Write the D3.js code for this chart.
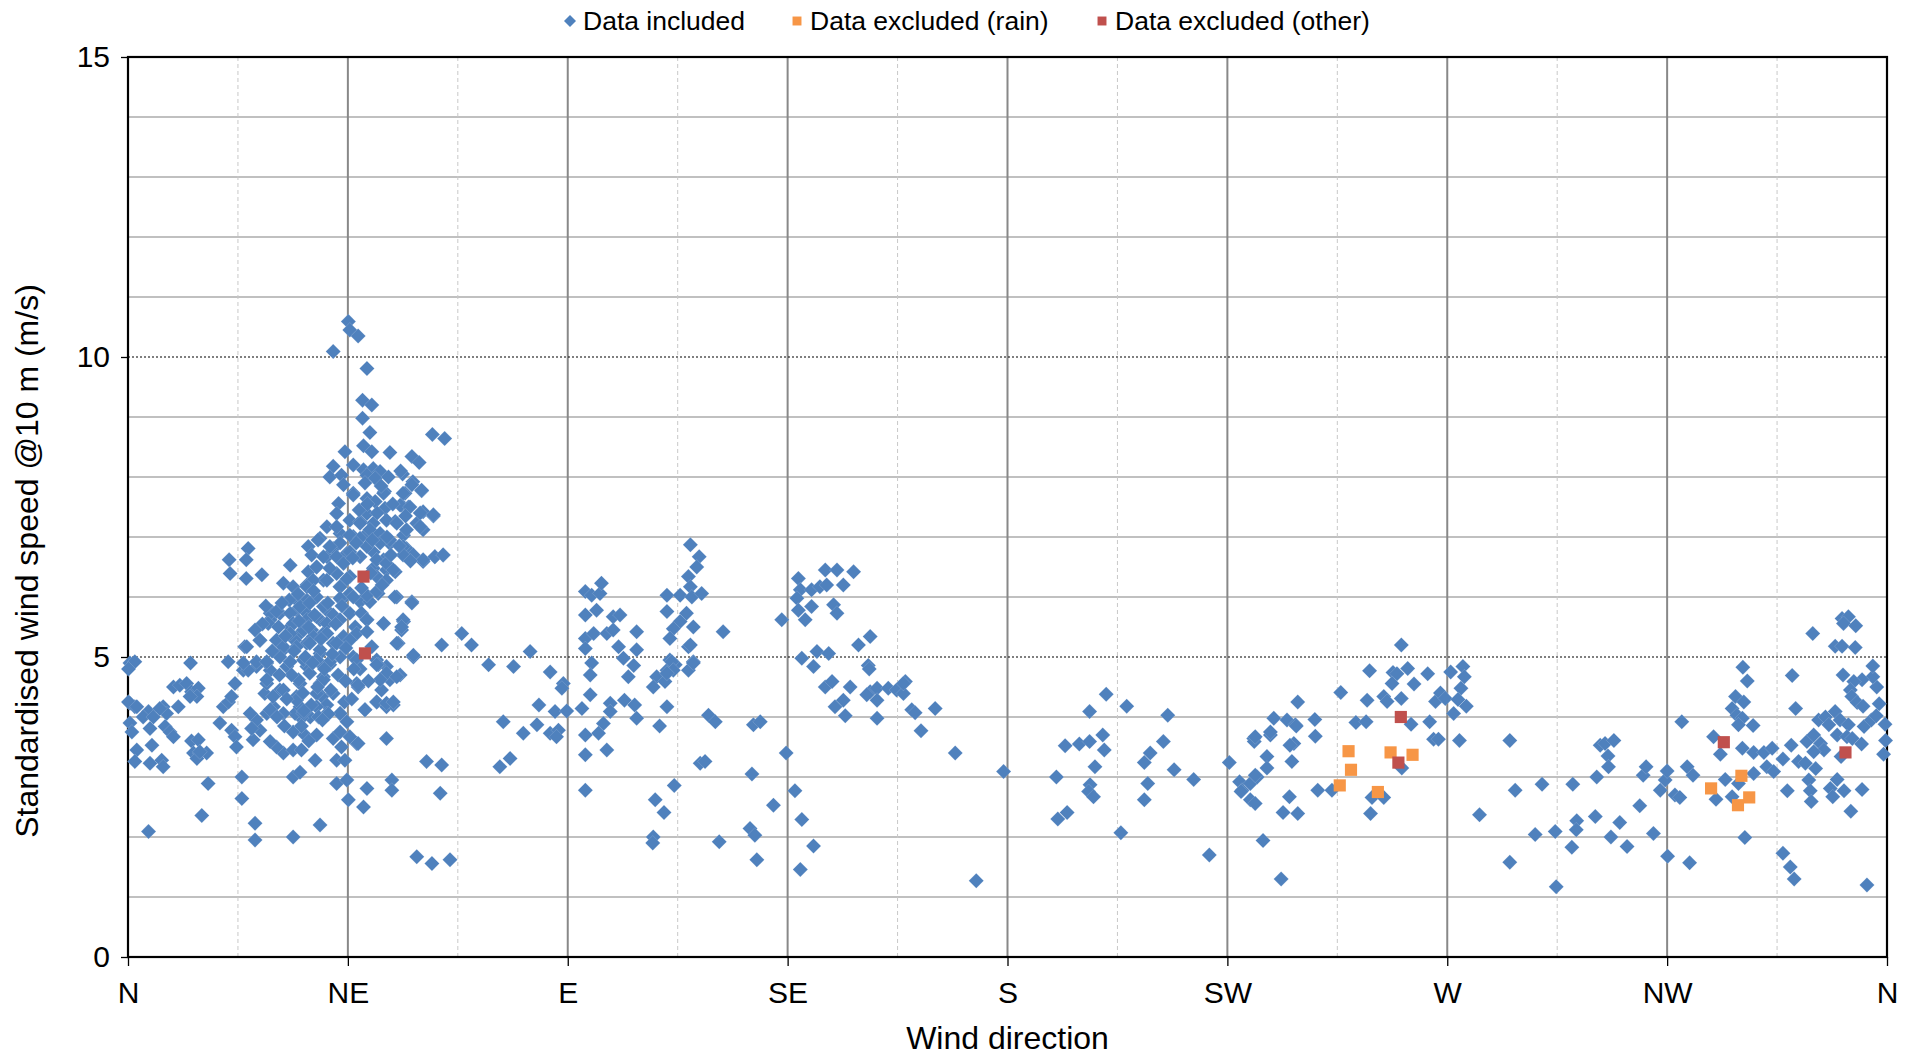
<!DOCTYPE html>
<html><head><meta charset="utf-8">
<script src="https://cdn.jsdelivr.net/npm/d3@7"></script>
<style>html,body{margin:0;padding:0;background:#fff}</style>
</head><body>
<svg id="chart" width="1913" height="1056"></svg>
<script>
// ---------- DATA ----------
const directionLabels = ["N","NE","E","SE","S","SW","W","NW","N"];
const directionTicks = [0,45,90,135,180,225,270,315,360];
const speedTicks = [0,5,10,15];
const seriesNames = ["Data included","Data excluded (rain)","Data excluded (other)"];

// [wind direction (deg), standardised wind speed (m/s)]
const includedPoints = [
// N - NNE
[0.4,4.9],[1.4,4.92],[0.1,4.8],[12.8,4.9],[0.4,4.23],[1.4,4.17],[4.2,4.09],[3.1,4.0],[0.4,3.9],[0.8,3.75],[1.8,3.45],[1.4,3.26],[4.5,3.23],[4.9,3.53],[4.5,3.81],[6.9,3.28],[7.2,3.17],[7.2,4.17],[7.9,4.06],[7.6,3.84],[8.6,3.75],[9.3,3.67],[10.3,4.17],[9.3,4.5],[10.6,4.53],[12.0,4.56],[13.0,4.42],[14.4,4.48],[14.1,4.34],[12.7,4.34],[13.0,3.6],[14.4,3.62],[13.4,3.4],[14.7,3.4],[16.1,3.4],[14.1,3.31],[4.2,2.09],[16.4,2.89],[15.1,2.36],[18.8,3.9],[19.5,4.17],[20.6,4.25],[21.2,3.78],[21.9,3.67],[22.2,3.5],[20.5,4.92],[21.9,4.56],[21.2,4.34],[23.3,3.0],[23.3,2.64],[26.0,2.23],[26.0,1.95],[0.1,4.25],[1.8,4.17],[23.6,4.78],[28.4,4.9],[31.1,4.45],[27.0,3.78],[14.7,3.42],[5.2,4.0],[6.5,4.14],
// NE upper
[45.1,10.59],[45.4,10.45],[47.1,10.35],[42.0,10.09],[48.9,9.81],[48.0,9.28],[49.9,9.2],[48.0,8.98],[49.5,8.74],[62.3,8.71],[64.8,8.64],[48.2,8.52],[44.4,8.42],[49.9,8.42],[53.6,8.41],[58.1,8.34],[59.6,8.24],[42.0,8.18],[46.1,8.2],[48.2,8.12],[50.2,8.14],[51.6,8.09],[48.9,8.03],[50.6,7.98],[41.3,8.0],[43.7,8.03],[56.2,8.05],[58.3,7.92],[60.1,7.77],[44.1,7.87],[46.1,7.73],[52.5,7.76],[48.9,7.64],[50.6,7.59],[52.6,7.48],[43.1,7.56],[56.7,7.73],[56.0,7.53],[57.4,7.5],[48.9,7.39],[60.4,7.42],[62.5,7.35],[42.7,7.39],[45.4,7.28],[47.5,7.26],[50.2,7.23],[54.7,7.26],[59.1,7.23],[60.4,7.12],[40.7,7.17],[39.3,6.98],[36.9,6.84],[43.4,7.06],[46.1,7.01],[48.9,7.06],[51.6,6.95],[53.6,6.89],[56.4,7.03],[57.0,6.81],[58.4,6.7],[62.8,6.67],[64.5,6.7],[60.4,6.59],[42.0,6.81],[44.8,6.73],[40.7,6.67],[47.5,6.67],[50.2,6.75],[52.3,6.62],[37.6,6.7],[33.2,6.53],[24.6,6.81],[24.2,6.62],[20.7,6.62],[20.9,6.39],[24.2,6.31],[27.4,6.37],[36.9,6.42],[38.6,6.5],[40.0,6.28],[42.7,6.39],[45.4,6.34],[50.2,6.48],[52.9,6.45],[54.7,6.42],[31.8,6.23],[33.8,6.17],[36.6,6.2],[43.4,6.17],[45.4,6.06],[51.2,6.06],[55.0,6.0],[58.1,5.92],[43.7,5.95],[47.5,5.92],[49.5,5.92],[34.5,5.95],[36.6,5.95],[38.6,6.0],[29.4,5.76],[31.1,5.73],[29.1,5.62],[34.5,5.78],[36.6,5.73],[40.7,5.78],[39.3,5.62],[42.0,5.7],[45.4,5.73],[47.8,5.73],[48.9,5.62],[52.3,5.56],[56.4,5.59],[56.0,5.45],[55.3,5.23],[68.3,5.39],[70.3,5.2],[64.2,5.2],[58.4,5.0],[73.8,4.87],[78.9,4.84],[33.2,5.5],[35.2,5.39],[37.6,5.45],[34.1,5.28],[36.6,5.23],[40.0,5.39],[42.0,5.23],[27.0,5.28],[30.4,5.28],[23.9,5.17],[31.8,5.12],[39.3,5.06],[46.1,5.0],[50.9,4.95],[52.9,4.84],[55.7,4.7],[53.6,4.62],[47.1,4.5],[51.9,4.45],
// NE lower
[46.8,4.56],[50.9,4.25],[52.9,4.17],[54.3,4.2],[48.5,4.12],[52.9,3.64],[46.8,3.56],[61.1,3.26],[64.2,3.2],[54.0,2.95],[54.0,2.78],[48.9,2.81],[45.1,2.62],[48.2,2.5],[63.9,2.73],[59.1,1.67],[62.2,1.56],[65.9,1.62],[39.3,2.2],[33.8,2.0],[42.7,2.89],[44.8,2.95],[33.8,3.0],[35.2,3.08],[38.3,3.28],[42.7,3.28],[44.4,3.28],[42.0,3.64],[45.4,3.67],[47.1,3.56],[43.7,3.5],[31.8,3.4],[33.8,3.45],[35.5,3.45],[30.4,3.5],[29.1,3.59],[25.6,3.62],[33.8,3.75],[36.2,3.7],[38.6,3.7],[43.4,3.75],[44.8,3.92],[43.4,4.06],[37.3,4.0],[35.5,3.98],[34.2,4.06],[26.3,3.95],[25.3,3.81],[28.4,4.06],[29.8,4.17],[28.0,4.39],[28.4,4.56],[35.2,4.56],[34.5,4.34],[35.2,4.17],[39.3,4.56],[39.7,4.34],[40.7,4.2],[40.0,4.67],[36.6,4.84],[32.5,4.84],[29.1,4.78],[26.3,4.84],[24.6,4.78],[39.3,4.9],[41.3,4.87],[51.2,4.87],
// NE core
[38.9,6.95],[42.7,7.17],[46.1,7.7],[52.3,7.73],[56.3,7.73],[58.1,7.87],[60.1,7.78],[55.7,7.53],[57.7,7.5],[59.8,7.4],[62.5,7.37],[52.9,7.28],[55.0,7.23],[57.0,7.12],[59.8,7.17],[47.5,7.23],[49.5,7.12],[51.6,7.06],[45.4,7.03],[47.5,6.98],[43.4,6.9],[41.3,6.84],[40.0,6.67],[42.7,6.67],[45.4,6.75],[48.9,6.84],[51.6,6.9],[53.6,6.95],[56.3,6.84],[56.3,6.7],[60.4,6.62],[62.8,6.67],[64.5,6.7],[38.6,6.5],[41.3,6.48],[44.1,6.56],[50.9,6.62],[52.9,6.56],[54.3,6.45],[50.9,6.34],[52.9,6.28],[37.9,6.28],[36.6,6.17],[40.7,6.28],[43.4,6.17],[43.4,5.98],[46.1,6.0],[48.9,6.03],[50.9,6.09],[54.6,6.0],[58.1,5.9],[33.2,5.73],[35.2,5.84],[37.2,5.9],[40.0,5.84],[29.1,5.73],[30.4,5.76],[28.7,5.56],[33.8,5.56],[36.6,5.62],[38.6,5.67],[40.7,5.56],[43.4,5.62],[46.5,5.5],[48.9,5.62],[52.3,5.56],[56.3,5.62],[56.0,5.5],[33.2,5.39],[35.9,5.45],[37.9,5.34],[40.7,5.39],[44.1,5.34],[46.8,5.39],[48.9,5.42],[27.0,5.28],[30.4,5.28],[55.0,5.23],[58.4,5.03],[31.8,5.17],[34.5,5.17],[37.2,5.23],[39.3,5.12],[42.7,5.23],[45.4,5.28],[49.9,5.17],[24.3,5.17],[23.6,4.9],[26.3,4.92],[28.4,4.92],[31.1,5.0],[33.2,4.92],[35.9,4.95],[38.6,4.95],[41.3,4.92],[43.4,5.0],[46.8,4.95],[50.9,4.87],[52.9,4.73],[55.0,4.67],[51.6,4.62],[47.1,4.53],[28.4,4.62],[31.8,4.45],[34.9,4.62],[37.2,4.73],[40.0,4.62],[42.0,4.39],[38.6,4.39],[34.5,4.28],[29.7,4.34],[29.1,4.12],[31.8,4.06],[35.9,4.06],[38.6,4.17],[40.7,4.06],[43.4,4.06],[50.9,4.25],[52.9,4.23],[54.3,4.25],[48.5,4.12],[25.0,4.06],
// NE dense blob (estimated overlapping marks)
[32.5,4.3],[33.5,4.7],[34.0,5.1],[35.0,5.6],[35.8,4.4],[36.3,5.0],[37.0,5.5],[37.5,4.2],[37.8,4.9],[38.2,5.7],[38.8,4.5],[39.5,5.3],[40.2,4.8],[40.9,5.9],[41.5,4.45],[41.8,5.05],[42.5,5.55],[43.0,4.7],[43.8,5.85],[44.3,4.25],[44.6,5.15],[32.2,5.35],[33.0,5.95],[34.8,6.05],[36.0,4.1],[38.0,6.1],[39.0,4.0],[41.0,4.05],[35.5,3.85],[37.0,3.6],[39.8,3.95],[30.5,4.0],[31.0,4.7],[29.5,5.1],[30.8,5.5],[32.0,3.85],
[44.8,6.3],[46.0,6.65],[47.3,7.45],[48.5,7.9],[49.7,6.4],[51.0,7.4],[51.8,7.85],[53.0,7.0],[54.2,7.55],[55.5,6.85],[56.8,7.35],[46.7,6.9],[50.0,6.95],[52.0,6.2],[53.8,6.7],[57.8,6.6],[55.8,8.1],[47.8,6.15],[49.0,7.55],[53.3,8.0],
[45.8,4.3],[47.5,4.8],[49.2,4.6],[46.2,4.8],[44.5,4.6],[27.5,5.55],[28.2,5.85],[26.0,5.45],[31.5,5.9],
// E - ESE
[82.3,5.09],[86.4,4.75],[89.1,4.56],[88.8,4.48],[93.6,6.09],[94.9,6.03],[96.6,6.06],[96.9,6.23],[93.6,5.7],[95.9,5.78],[99.3,5.67],[100.7,5.7],[93.6,5.31],[95.3,5.39],[98.0,5.39],[99.3,5.45],[93.6,5.14],[100.4,5.17],[104.1,5.42],[104.1,5.12],[101.4,4.98],[94.9,4.9],[94.6,4.7],[103.5,4.86],[102.4,4.67],[110.3,6.03],[113.0,6.03],[115.1,6.87],[116.9,6.67],[116.4,6.5],[114.7,6.34],[115.1,6.17],[115.4,6.0],[117.4,6.06],[110.3,5.76],[114.3,5.73],[113.0,5.59],[111.6,5.47],[115.7,5.5],[110.9,5.31],[114.7,5.17],[121.8,5.42],[110.9,4.95],[112.0,4.87],[110.3,4.78],[115.7,4.92],[114.7,4.78],[108.2,4.67],[107.5,4.5],[109.9,4.59],
[84.1,4.2],[87.4,4.09],[89.8,4.1],[83.7,3.87],[80.9,3.73],[86.4,3.73],[88.1,3.78],[87.7,3.67],[76.8,3.92],[78.2,3.31],[76.1,3.17],[92.9,4.14],[94.6,4.37],[98.7,4.23],[98.7,4.09],[97.3,3.89],[96.3,3.73],[93.6,3.7],[93.6,3.37],[98.0,3.45],[93.6,2.78],[101.6,4.28],[103.7,4.2],[104.1,3.98],[110.3,4.17],[108.8,3.85],[111.3,4.92],[111.6,4.78],[110.3,4.73],[115.1,5.2],[115.7,4.9],[118.8,4.03],[120.2,3.92],[128.0,3.87],[129.4,3.92],[117.1,3.23],[118.1,3.26],[111.8,2.86],[107.9,2.62],[109.7,2.41],[107.5,2.0],[107.4,1.9],[121.0,1.92],[127.7,3.05],[127.3,2.14],[128.3,2.03],[128.7,1.62],[132.1,2.53],[134.7,3.4],[136.5,2.77],[137.9,2.29],[140.3,1.85],[137.6,1.46],
// SE - SSE
[133.8,5.62],[137.2,6.31],[137.6,6.12],[136.9,5.98],[137.2,5.78],[138.6,5.62],[139.9,5.84],[139.9,6.12],[141.6,6.17],[143.0,6.2],[142.7,6.45],[145.1,6.45],[148.5,6.42],[146.4,6.2],[144.4,5.87],[145.1,5.73],[149.5,5.2],[151.9,5.34],[137.9,4.98],[141.0,5.09],[143.4,5.06],[140.3,4.84],[151.5,4.86],[142.7,4.5],[144.1,4.59],[147.8,4.5],[151.9,4.42],[153.3,4.48],[155.6,4.48],[157.3,4.45],[159.1,4.59],[158.7,4.39],
[144.7,4.17],[146.4,4.28],[146.8,4.02],[151.2,4.37],[153.3,4.28],[153.3,3.98],[158.7,4.56],[160.4,4.12],[161.1,4.07],[165.2,4.14],[162.3,3.77],[169.3,3.4],[179.2,3.09],[173.6,1.27],[151.7,4.8],
// S - SSW
[190.0,3.0],[191.8,3.52],[194.7,3.55],[196.8,3.59],[196.8,4.09],[200.2,4.38],[204.4,4.18],[199.5,3.7],[199.8,3.45],[197.9,3.17],[196.9,2.87],[196.6,2.76],[197.6,2.67],[190.3,2.3],[192.2,2.41],[203.2,2.07],[208.0,3.24],[209.2,3.4],[208.7,2.89],[208.0,2.62],[211.9,3.59],[212.8,4.03],[214.1,3.12],[218.1,2.96],[221.3,1.7],
// SW - WSW
[225.4,3.24],[227.5,2.92],[228.0,2.78],[229.7,2.89],[231.1,3.0],[229.7,2.62],[230.7,2.56],[230.4,3.64],[230.5,3.59],[233.8,3.7],[234.5,3.98],[237.2,3.95],[238.9,3.87],[238.6,3.56],[238.2,3.26],[233.1,3.34],[233.1,3.15],[239.4,4.25],[237.7,2.67],[236.4,2.41],[239.4,2.39],[232.3,1.94],[236.0,1.3],
[227.8,2.76],[230.7,3.03],[230.7,3.67],[233.8,3.75],[239.1,3.85],[237.8,3.53],[242.9,3.96],[243.0,3.68],[243.5,2.78],[246.4,2.78],[248.2,4.41],[251.3,3.91],[253.4,3.92],[253.6,4.28],[254.1,4.77],[257.0,4.34],[257.7,4.26],[258.9,4.74],[259.7,4.72],[258.7,4.56],[260.6,5.2],[261.9,4.81],[263.2,4.55],[260.6,4.31],[262.6,3.88],[266.0,4.72],[266.4,3.92],[267.2,3.63],[268.2,3.63],[267.6,4.26],[268.6,4.4],[269.6,4.31],[260.7,3.15],[254.6,2.66],[257.0,2.66],[254.3,2.39],
// W - WNW
[270.7,4.75],[273.2,4.84],[273.5,4.67],[272.8,4.48],[272.2,4.29],[273.9,4.18],[271.3,4.06],[272.5,3.61],[282.8,3.61],[283.9,2.78],[276.6,2.37],[282.8,1.58],[288.0,2.04],[289.4,2.88],[292.1,2.09],[292.3,1.17],[295.5,1.83],[295.7,2.88],[296.5,2.27],[296.4,2.12],[300.3,2.34],[300.6,3.0],[301.3,3.53],
[302.3,3.56],[304.1,3.61],[302.9,3.35],[303.0,3.17],[303.5,2.0],[305.3,2.24],[306.8,1.84],[309.4,2.52],[310.1,3.03],[310.7,3.17],[312.2,2.06],[313.6,2.78],[314.6,2.95],
// NW - N
[315.0,3.1],[315.1,1.68],[318.0,3.92],[316.6,2.7],[317.6,2.66],[319.1,3.17],[320.3,3.03],[319.6,1.57],[324.5,3.67],[325.9,3.38],[326.9,2.96],[325.0,2.63],[328.3,2.67],[329.6,2.89],[330.5,4.83],[331.4,4.6],[329.0,4.34],[330.7,4.25],[328.3,4.14],[329.3,4.03],[330.4,3.98],[329.6,3.87],[332.6,3.86],[330.4,3.48],[332.7,3.41],[334.8,3.41],[336.5,3.48],[332.7,3.06],[335.4,3.17],[336.8,3.09],[330.9,1.99],[339.6,2.77],[338.7,1.73],[340.2,1.5],[341.0,1.3],[340.6,4.69],[341.3,4.14],[340.4,3.53],[338.7,3.3],[341.9,3.26],[343.3,3.23],[345.4,3.14],[344.0,2.95],[344.3,2.77],[344.5,2.59],[343.6,3.59],[345.0,3.7],[346.4,3.56],[347.1,3.45],[345.0,3.42],[346.0,3.95],[347.4,4.0],[349.4,4.09],[348.1,3.87],[350.4,3.95],[352.1,3.87],[349.8,3.7],[351.8,3.67],[352.9,3.64],[350.6,3.34],[354.8,3.55],[349.8,2.96],[348.4,2.81],[348.9,2.67],[351.2,2.77],[354.9,2.79],[352.6,2.43],[355.9,1.2],[355.3,3.84],[356.8,3.95],[357.8,4.02],[359.6,3.88],[359.7,3.61],[359.3,3.38],[358.4,4.22],[357.9,4.5],[357.1,4.67],[357.1,4.85],[354.9,4.62],[353.2,4.59],[352.5,4.45],[352.8,4.34],[353.9,4.24],[355.1,4.18],[351.0,4.7],[349.4,5.18],[350.8,5.18],[353.5,5.16],[350.8,5.64],[352.1,5.67],[351.1,5.56],[353.6,5.52],[344.8,5.39]
];
const rainExcluded = [[249.8,3.43],[250.3,3.12],[248.0,2.86],[255.8,2.75],[258.4,3.41],[262.9,3.37],[324.0,2.81],[330.2,3.02],[331.8,2.66],[329.5,2.53]];
const otherExcluded = [[48.2,6.34],[48.5,5.06],[260.5,4.0],[260.0,3.24],[326.6,3.58],[351.5,3.41]];

// ---------- LAYOUT ----------
const FONT = "'Liberation Sans', Arial, Helvetica, sans-serif";
const L = 128, R = 1887, T = 57, B = 957;
const COLORS = {blue:"#4F81BD", orange:"#F79646", red:"#C0504D"};

const svg = d3.select("#chart");
const x = d3.scaleLinear().domain([0,360]).range([L,R]);
const y = d3.scaleLinear().domain([0,15]).range([B,T]);

// horizontal gridlines
const grid = svg.append("g");
grid.selectAll("line.hminor").data(d3.range(1,15).filter(v => v % 5 !== 0)).join("line")
  .attr("x1",L).attr("x2",R).attr("y1",d=>y(d)).attr("y2",d=>y(d))
  .attr("stroke","#c0c0c0").attr("stroke-width",2.2);
// vertical minor (dashed) gridlines
grid.selectAll("line.vminor").data(d3.range(22.5,360,45)).join("line")
  .attr("x1",d=>x(d)).attr("x2",d=>x(d)).attr("y1",T).attr("y2",B)
  .attr("stroke","#c8c8c8").attr("stroke-width",1).attr("stroke-dasharray","4,3");
// vertical major gridlines
grid.selectAll("line.vmajor").data(directionTicks.slice(1,-1)).join("line")
  .attr("x1",d=>x(d)).attr("x2",d=>x(d)).attr("y1",T).attr("y2",B)
  .attr("stroke","#888888").attr("stroke-width",2);
// dashed major horizontal at 5, 10
grid.selectAll("line.hmajor").data([5,10]).join("line")
  .attr("x1",L).attr("x2",R).attr("y1",d=>y(d)).attr("y2",d=>y(d))
  .attr("stroke","#000").attr("stroke-width",1.1).attr("stroke-dasharray","2,2");

// axes
const yAxis = d3.axisLeft(y).tickValues(speedTicks).tickSize(7).tickPadding(11).tickFormat(d3.format("d"));
const gy = svg.append("g").attr("transform",`translate(${L},0)`).call(yAxis);
const xAxis = d3.axisBottom(x).tickValues(directionTicks).tickSize(9).tickPadding(16).tickFormat((d,i)=>directionLabels[i]);
const gx = svg.append("g").attr("transform",`translate(0,${B})`).call(xAxis);
[gx,gy].forEach(g=>{
  g.select(".domain").remove();
  g.selectAll(".tick line").attr("stroke","#000").attr("stroke-width",1.3);
  g.selectAll(".tick text").attr("fill","#000").style("font-family",FONT).style("font-size","30px");
});

// plot border
svg.append("rect").attr("x",L).attr("y",T).attr("width",R-L).attr("height",B-T)
  .attr("fill","none").attr("stroke","#000").attr("stroke-width",2.2);

// markers
const diamond = d3.symbol().type(d3.symbolSquare).size(112);
const square = d3.symbol().type(d3.symbolSquare).size(148);
const pts = svg.append("g");
pts.selectAll("path.inc").data(includedPoints).join("path")
  .attr("d",diamond)
  .attr("transform",d=>`translate(${x(d[0])},${y(d[1])}) rotate(45)`)
  .attr("fill",COLORS.blue).attr("stroke","rgba(255,255,255,0.22)").attr("stroke-width",0.6);
pts.selectAll("path.rain").data(rainExcluded).join("path")
  .attr("d",square)
  .attr("transform",d=>`translate(${x(d[0])},${y(d[1])})`)
  .attr("fill",COLORS.orange);
pts.selectAll("path.other").data(otherExcluded).join("path")
  .attr("d",square)
  .attr("transform",d=>`translate(${x(d[0])},${y(d[1])})`)
  .attr("fill",COLORS.red);

// axis titles
svg.append("text").attr("x",(L+R)/2).attr("y",1038).attr("text-anchor","middle").attr("dominant-baseline","central")
  .style("font-family",FONT).style("font-size","32px").attr("fill","#000").text("Wind direction");
svg.append("text").attr("transform","translate(27,561) rotate(-90)").attr("text-anchor","middle").attr("dominant-baseline","central")
  .style("font-family",FONT).style("font-size","32px").attr("fill","#000").text("Standardised wind speed @10 m (m/s)");

// legend
const legendItems = [
  {name:seriesNames[0], color:COLORS.blue, sym:"diamond", mx:570},
  {name:seriesNames[1], color:COLORS.orange, sym:"square", mx:797},
  {name:seriesNames[2], color:COLORS.red, sym:"square", mx:1102}
];
const lg = svg.append("g");
const ly = 21;
legendItems.forEach(it=>{
  const s = it.sym==="diamond" ? d3.symbol().type(d3.symbolSquare).size(72) : d3.symbol().type(d3.symbolSquare).size(80);
  lg.append("path").attr("d",s).attr("fill",it.color)
    .attr("transform",`translate(${it.mx},${ly})` + (it.sym==="diamond"?" rotate(45)":""));
  lg.append("text").attr("x",it.mx+13).attr("y",ly).attr("dominant-baseline","central")
    .style("font-family",FONT).style("font-size","26.5px").attr("fill","#000").text(it.name);
});
</script>
</body></html>
